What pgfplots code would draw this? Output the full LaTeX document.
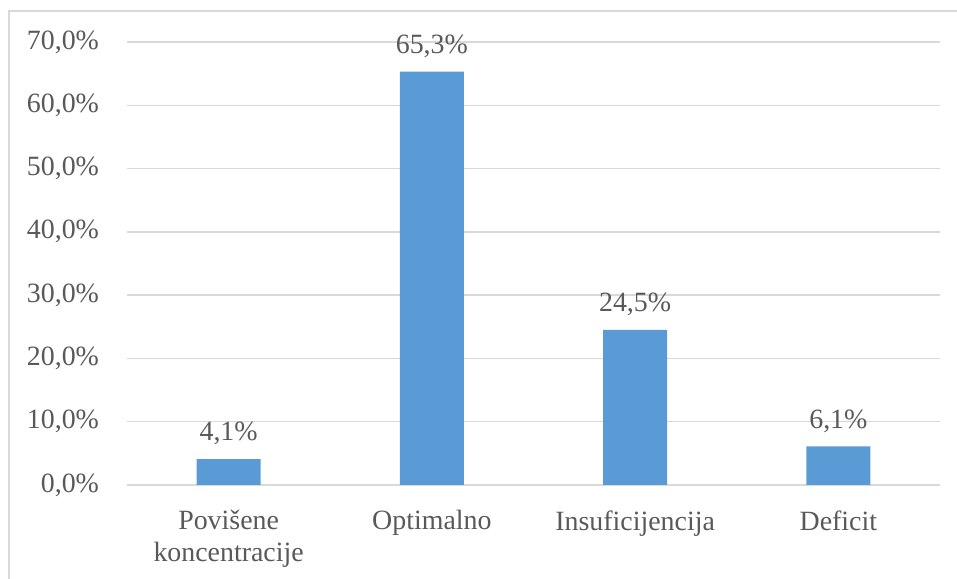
\documentclass[border=0pt]{standalone}
\usepackage{pgfplots}
\pgfplotsset{compat=1.18}
\usepackage{fontspec}
\setmainfont{Liberation Serif}
\definecolor{barblue}{HTML}{5B9BD5}
\definecolor{gridgray}{HTML}{D9D9D9}
\definecolor{txtgray}{HTML}{595959}
\begin{document}
\begin{tikzpicture}
\useasboundingbox (0bp,0bp) rectangle (957bp,579bp);
\draw[gridgray, line width=1.5bp] (9bp,-5bp) -- (9bp,568bp) -- (962bp,568bp);
\begin{axis}[
  at={(127bp,94bp)}, anchor=south west,
  scale only axis, width=813bp, height=443bp,
  xmin=-0.5, xmax=3.5, ymin=0, ymax=70,
  ybar, bar width=0.315,
  axis line style={draw=none},
  xtick={0,1,2,3},
  xticklabels={{Povišene\\koncentracije},{Optimalno},{Insuficijencija},{Deficit}},
  xticklabel style={align=center, text=txtgray, font=\fontsize{28}{32}\selectfont, yshift=-22bp, anchor=north},
  ytick={0,10,...,70},
  yticklabel={\pgfmathprintnumber[fixed,fixed zerofill,precision=1,use comma]{\tick}\%},
  yticklabel style={text=txtgray, font=\fontsize{28}{32}\selectfont, xshift=-24.5bp},
  /pgf/number format/assume math mode=true,
  major tick length=0pt,
  ymajorgrids, grid style={gridgray, line width=1.5bp},
  nodes near coords={\pgfmathprintnumber[fixed,fixed zerofill,precision=1,use comma]{\pgfplotspointmeta}\%},
  nodes near coords style={text=txtgray, font=\fontsize{28}{32}\selectfont, yshift=10.5bp},
]
\draw[gridgray, line width=1.5bp] (axis cs:-0.5,0) -- (axis cs:3.5,0);
\addplot[fill=barblue, draw=none] coordinates {(0,4.1) (1,65.3) (2,24.5) (3,6.1)};
\end{axis}
\end{tikzpicture}
\end{document}
